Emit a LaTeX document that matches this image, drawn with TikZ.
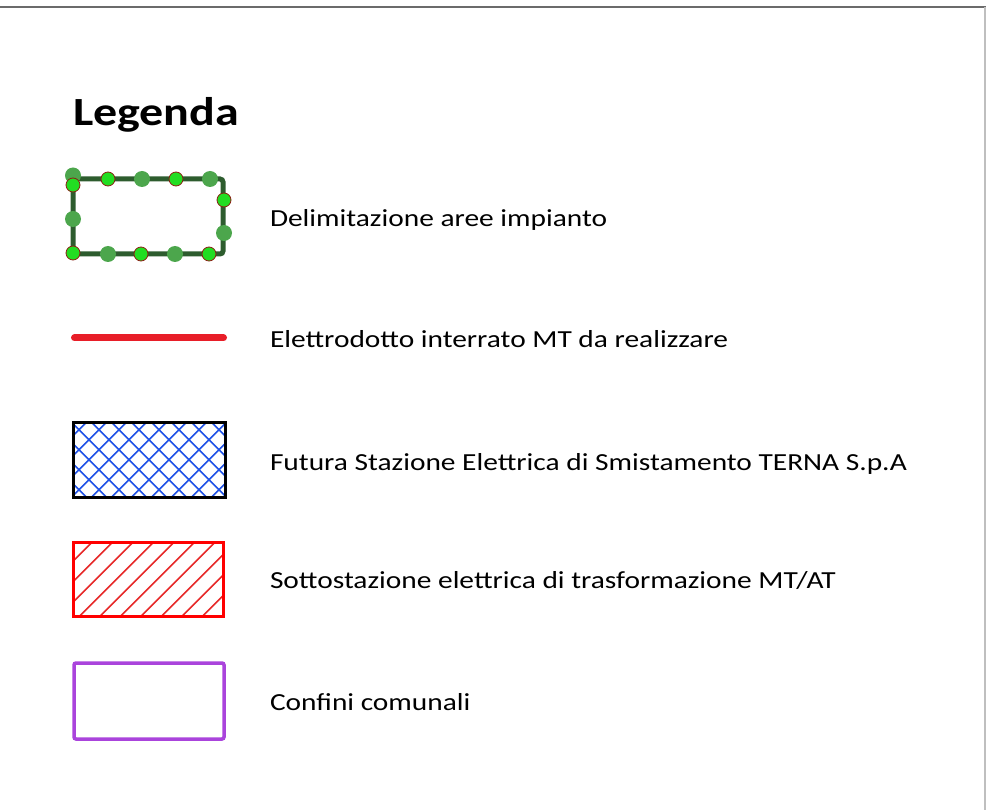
\documentclass[tikz,border=0pt]{standalone}
\usepackage{fontspec}
\setmainfont[FakeStretch=1.2]{Carlito}
\usetikzlibrary{calc}

\definecolor{framegreen}{RGB}{45,92,46}
\definecolor{dotmid}{RGB}{76,166,76}
\definecolor{dotbright}{RGB}{34,221,34}
\definecolor{dotrim}{RGB}{140,30,20}
\definecolor{mtred}{RGB}{232,30,40}
\definecolor{hatchblue}{RGB}{30,80,230}
\definecolor{hatchred}{RGB}{230,40,40}
\definecolor{borderred}{RGB}{255,0,0}
\definecolor{purplecom}{RGB}{170,68,220}

\begin{document}
\begin{tikzpicture}[x=1pt, y=-1pt,
                every node/.style={inner sep=0pt, outer sep=0pt},
                lbl/.style={anchor=base west, font=\fontsize{24.5}{29}\selectfont},
                sym/.style={rectangle, minimum width=150pt, minimum height=75pt},
                dotA/.style={circle, minimum size=16pt, fill=dotmid},
                dotB/.style={circle, minimum size=14pt, fill=dotbright, draw=dotrim, line width=0.8pt},
                mtline/.style={mtred, line width=7pt, line cap=round},
                crosshatch/.style={path picture={
                    \foreach \k in {-6,...,6} {
                        \draw[hatchblue, line width=1.5pt] ([shift={(\k*20-60,60)}]path picture bounding box.center) -- +(120,-120);
                        \draw[hatchblue, line width=1.5pt] ([shift={(\k*20-60,-60)}]path picture bounding box.center) -- +(120,120);}}},
                slashhatch/.style={path picture={
                    \foreach \k in {-6,...,6}
                        \draw[hatchred, line width=1.5pt] ([shift={(\k*20.5-71,60)}]path picture bounding box.center) -- +(120,-120);}}]

    \useasboundingbox (0,0) rectangle (986,810); % same size as the reference

    % page edges
    \draw[black!58, line width=2pt] (0,7.5) -- (986,7.5);
    \draw[black!25, line width=1.5pt] (985.2,7.5) -- (985.2,810);

    \node[anchor=base west, font=\bfseries\fontsize{40}{48}\selectfont] (title) at (73,126) {Legenda};

    % aree impianto
    \node[sym, draw=framegreen, line width=5pt, rounded corners=3pt, minimum height=75pt] (area) at (148,216.5) {};
    \node[dotA] (d1) at (73,175.5) {};
    \node[dotA] (d2) at (142,179) {};
    \node[dotA] (d3) at (210,179) {};
    \node[dotA] (d4) at (224,233) {};
    \node[dotA] (d5) at (73,219) {};
    \node[dotA] (d6) at (108,254) {};
    \node[dotA] (d7) at (175,254) {};
    \node[dotB] (e1) at (73,185) {};
    \node[dotB] (e2) at (108,179) {};
    \node[dotB] (e3) at (176,179) {};
    \node[dotB] (e4) at (224,200) {};
    \node[dotB] (e5) at (73,253) {};
    \node[dotB] (e6) at (141,254) {};
    \node[dotB] (e7) at (209,254) {};
    \node[lbl] (tarea) at (270,227) {Delimitazione aree impianto};

    % elettrodotto
    \coordinate (mtA) at (74.5,338);
    \coordinate (mtB) at (223.5,338);
    \draw[mtline] (mtA) -- (mtB);
    \node[lbl] (tmt) at (270,348) {Elettrodotto interrato MT da realizzare};

    % stazione terna
    \node[sym, crosshatch, draw=black, line width=3pt, minimum width=152pt] (terna) at (149,459.8) {};
    \node[lbl] (tterna) at (270,470) {Futura Stazione Elettrica di Smistamento TERNA S.p.A};

    % sottostazione
    \node[sym, slashhatch, draw=borderred, line width=3pt, minimum height=74.5pt] (sse) at (148,579.3) {};
    \node[lbl] (tsse) at (270,588) {Sottostazione elettrica di trasformazione MT/AT};

    % confini
    \node[sym, draw=purplecom, line width=3.5pt, rounded corners=2pt, minimum height=76pt] (conf) at (149,701) {};
    \node[lbl] (tconf) at (270,710) {Confini comunali};

\end{tikzpicture}
\end{document}
